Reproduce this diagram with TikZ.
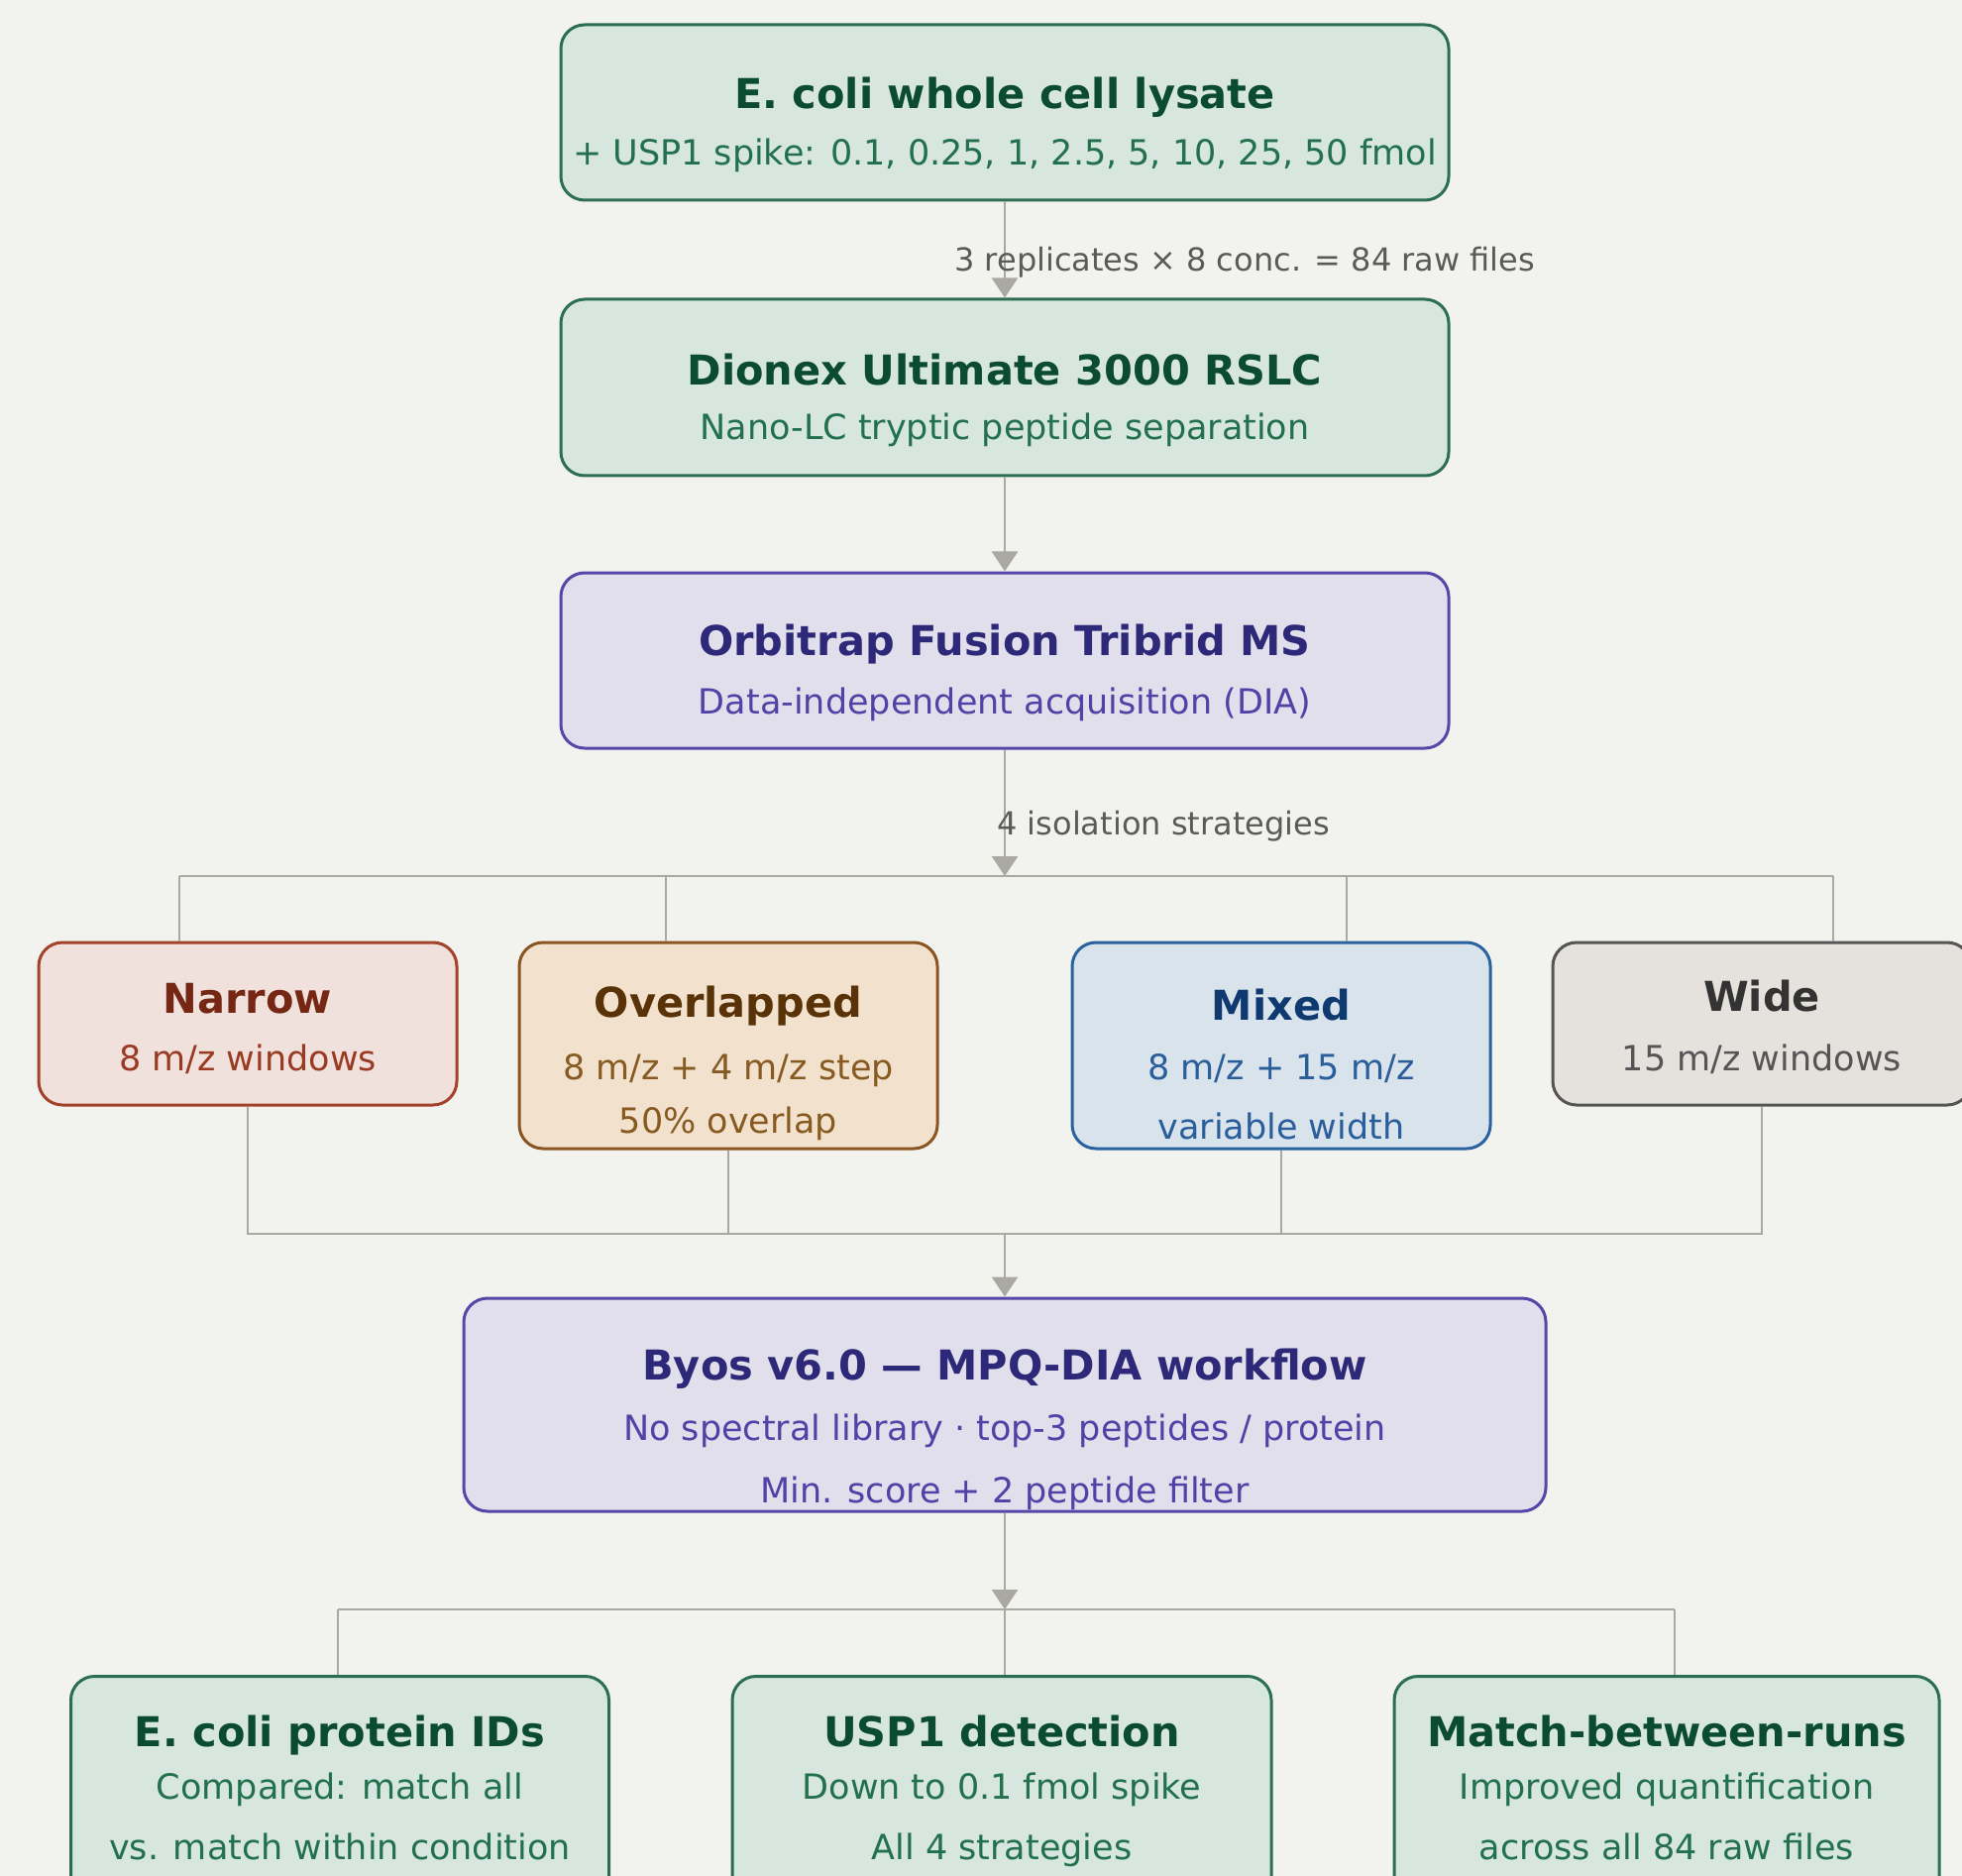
\documentclass[tikz,border=0pt]{standalone}
\usepackage{fontspec}
\setmainfont{DejaVu Sans}
\usetikzlibrary{arrows.meta}
\definecolor{bg}{HTML}{F2F2EE}
\definecolor{conncol}{HTML}{A9A9A1}
\definecolor{gfill}{HTML}{D7E6DE}
\definecolor{gdraw}{HTML}{2C6E52}
\definecolor{gtitle}{HTML}{0B4A33}
\definecolor{gsub}{HTML}{22704E}
\definecolor{pfill}{HTML}{E0DFEB}
\definecolor{pdraw}{HTML}{5546A8}
\definecolor{ptitle}{HTML}{2E2878}
\definecolor{psub}{HTML}{5042A6}
\definecolor{nfill}{HTML}{F0E1DC}
\definecolor{ndraw}{HTML}{A3412B}
\definecolor{ntitle}{HTML}{752713}
\definecolor{nsub}{HTML}{9A3A22}
\definecolor{ofill}{HTML}{F2E2CD}
\definecolor{odraw}{HTML}{8A5520}
\definecolor{otitle}{HTML}{5A3208}
\definecolor{osub}{HTML}{875A22}
\definecolor{mfill}{HTML}{D9E3EC}
\definecolor{mdraw}{HTML}{2A62A0}
\definecolor{mtitle}{HTML}{0F3A70}
\definecolor{msub}{HTML}{2A5E9A}
\definecolor{wfill}{HTML}{E5E1DC}
\definecolor{wdraw}{HTML}{555555}
\definecolor{wtitle}{HTML}{333333}
\definecolor{wsub}{HTML}{555555}
\definecolor{lblcol}{HTML}{5A5A5A}
\tikzset{
  boxbase/.style={rectangle, rounded corners=12pt, line width=1.5pt, inner sep=0pt},
  gbox/.style={boxbase, fill=gfill, draw=gdraw},
  pbox/.style={boxbase, fill=pfill, draw=pdraw},
  nbox/.style={boxbase, fill=nfill, draw=ndraw},
  obox/.style={boxbase, fill=ofill, draw=odraw},
  mbox/.style={boxbase, fill=mfill, draw=mdraw},
  wbox/.style={boxbase, fill=wfill, draw=wdraw},
  ttl/.style={anchor=base, inner sep=0pt, font=\fontsize{20.75pt}{24pt}\selectfont\bfseries},
  sub/.style={anchor=base, inner sep=0pt, font=\fontsize{17.5pt}{21pt}\selectfont},
  lbl/.style={anchor=base west, inner sep=0pt, text=lblcol, font=\fontsize{16pt}{19pt}\selectfont},
  conn/.style={draw=conncol, line width=1.3pt},
  arr/.style={conn, -{Triangle[length=10pt,width=13pt]}, fill=conncol}
}
\begin{document}
\begin{tikzpicture}[x=0.5pt, y=-0.5pt]
\useasboundingbox (0,0) rectangle (1980,1893);
\fill[bg] (0,0) rectangle (1980,1893);

% main column
\node[gbox, minimum width=448pt, minimum height=88.5pt] (lys) at (1014,113.5) {};
\node[ttl, text=gtitle] (lysT) at (1014,109.5) {E. coli whole cell lysate};
\node[sub, text=gsub] (lysS) at (1014,167) {+ USP1 spike: 0.1, 0.25, 1, 2.5, 5, 10, 25, 50 fmol};

\node[gbox, minimum width=448pt, minimum height=89pt] (lc) at (1014,391) {};
\node[ttl, text=gtitle] (lcT) at (1014,388.5) {Dionex Ultimate 3000 RSLC};
\node[sub, text=gsub] (lcS) at (1014,444) {Nano-LC tryptic peptide separation};

\node[pbox, minimum width=448pt, minimum height=88.5pt] (orb) at (1014,666.5) {};
\node[ttl, text=ptitle] (orbT) at (1014,661.5) {Orbitrap Fusion Tribrid MS};
\node[sub, text=psub] (orbS) at (1014,720) {Data-independent acquisition (DIA)};

% strategies
\node[nbox, minimum width=211pt, minimum height=82pt] (nar) at (250,1033) {};
\node[ttl, text=ntitle] (narT) at (250,1022.5) {Narrow};
\node[sub, text=nsub] (narS) at (250,1080) {8 m/z windows};

\node[obox, minimum width=211pt, minimum height=104pt] (ovl) at (735,1055) {};
\node[ttl, text=otitle] (ovlT) at (735,1026.5) {Overlapped};
\node[sub, text=osub] (ovlS) at (735,1089) {8 m/z + 4 m/z step};
\node[sub, text=osub] (ovlS2) at (735,1143) {50\% overlap};

\node[mbox, minimum width=211pt, minimum height=104pt] (mix) at (1293,1055) {};
\node[ttl, text=mtitle] (mixT) at (1293,1029.5) {Mixed};
\node[sub, text=msub] (mixS) at (1293,1089) {8 m/z + 15 m/z};
\node[sub, text=msub] (mixS2) at (1293,1149) {variable width};

\node[wbox, minimum width=211pt, minimum height=82pt] (wid) at (1778,1033) {};
\node[ttl, text=wtitle] (widT) at (1778,1020.5) {Wide};
\node[sub, text=wsub] (widS) at (1778,1080) {15 m/z windows};

% Byos
\node[pbox, minimum width=546pt, minimum height=107.5pt] (byos) at (1014,1417.5) {};
\node[ttl, text=ptitle] (byosT) at (1014,1392.5) {Byos v6.0 — MPQ-DIA workflow};
\node[sub, text=psub] (byosS) at (1014,1453) {No spectral library · top-3 peptides / protein};
\node[sub, text=psub] (byosS2) at (1014,1516) {Min. score + 2 peptide filter};

% outputs
\node[gbox, minimum width=271.5pt, minimum height=115pt, anchor=north] (eco) at (343,1690) {};
\node[ttl, text=gtitle] (ecoT) at (343,1762.5) {E. coli protein IDs};
\node[sub, text=gsub] (ecoS) at (343,1815) {Compared: match all};
\node[sub, text=gsub] (ecoS2) at (343,1876) {vs. match within condition};

\node[gbox, minimum width=272pt, minimum height=115pt, anchor=north] (usp) at (1011,1690) {};
\node[ttl, text=gtitle] (uspT) at (1011,1762.5) {USP1 detection};
\node[sub, text=gsub] (uspS) at (1011,1815) {Down to 0.1 fmol spike};
\node[sub, text=gsub] (uspS2) at (1011,1876) {All 4 strategies};

\node[gbox, minimum width=275pt, minimum height=115pt, anchor=north] (mbr) at (1682,1690) {};
\node[ttl, text=gtitle] (mbrT) at (1682,1762.5) {Match-between-runs};
\node[sub, text=gsub] (mbrS) at (1682,1815) {Improved quantification};
\node[sub, text=gsub] (mbrS2) at (1682,1876) {across all 84 raw files};

% coordinates
\coordinate (b1c) at (1014,884);
\coordinate (b1L) at (181,884);
\coordinate (b1a) at (672,884);
\coordinate (b1b) at (1359,884);
\coordinate (b1R) at (1850,884);
\coordinate (b2c) at (1014,1245);
\coordinate (b3c) at (1014,1624);
\coordinate (b3L) at (341,1624);
\coordinate (b3R) at (1690,1624);

% connectors
\draw[arr] (lys.south) -- (lc.north);
\node[lbl] (l1) at (963,274) {3 replicates × 8 conc. = 84 raw files};
\draw[arr] (lc.south) -- (orb.north);
\draw[conn] (b1L) -- (b1R);
\draw[conn] (b1L) -- (b1L |- nar.north);
\draw[conn] (b1a) -- (b1a |- ovl.north);
\draw[conn] (b1b) -- (b1b |- mix.north);
\draw[conn] (b1R) -- (b1R |- wid.north);
\draw[arr] (orb.south) -- (b1c);
\node[lbl] (l2) at (1006,842) {4 isolation strategies};

\draw[conn] (nar.south) |- (b2c) -| (wid.south);
\draw[conn] (ovl.south) -- (ovl.south |- b2c);
\draw[conn] (mix.south) -- (mix.south |- b2c);
\draw[arr] (b2c) -- (byos.north);

\draw[conn] (b3L) -- (b3R);
\draw[conn] (b3L) -- (b3L |- eco.north);
\draw[conn] (b3c) -- (b3c |- usp.north);
\draw[conn] (b3R) -- (b3R |- mbr.north);
\draw[arr] (byos.south) -- (b3c);
\end{tikzpicture}
\end{document}
